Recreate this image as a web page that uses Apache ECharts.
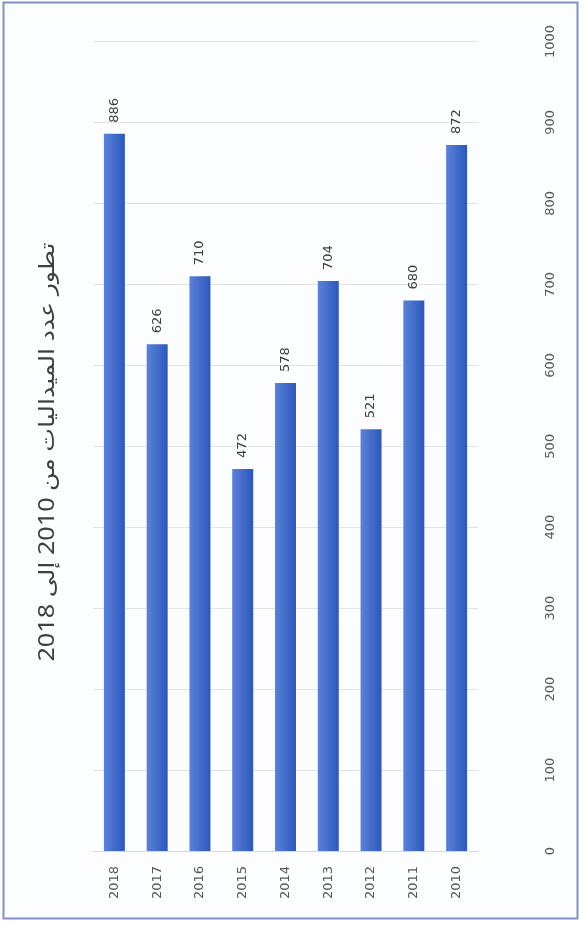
<!DOCTYPE html>
<html><head><meta charset="utf-8">
<script src="https://cdn.jsdelivr.net/npm/echarts@6/dist/echarts.min.js"></script>
<style>html,body{margin:0;padding:0;background:#fff}#c{width:582px;height:925px}</style>
</head><body><div id="c"></div>
<script>
var categories = ['2018','2017','2016','2015','2014','2013','2012','2011','2010'];
var medals = [886, 626, 710, 472, 578, 704, 521, 680, 872];
var titleText = 'تطور عدد الميداليات من 2010 إلى 2018';

var chart = echarts.init(document.getElementById('c'));
var font = '"DejaVu Sans", "Liberation Sans", sans-serif';
chart.setOption({
  animation: false,
  backgroundColor: '#ffffff',
  grid: {left: 93, right: 104, top: 41.5, bottom: 74},
  graphic: [
    {type: 'rect', shape: {x: 3.5, y: 2.5, width: 574, height: 916}, style: {fill: '#fcfdfe', stroke: '#7f93c2', lineWidth: 2}, z: -10},
    {type: 'text', x: 48, y: 452, rotation: Math.PI/2, scaleX: 1.2,
     style: {text: titleText, fill: '#404040', font: '21px "Noto Sans", "DejaVu Sans", sans-serif', align: 'center', verticalAlign: 'middle'}}
  ],
  xAxis: {
    type: 'category', data: categories,
    axisLine: {lineStyle: {color: '#d9d9d9'}},
    axisTick: {show: false},
    axisLabel: {rotate: 90, margin: 15, color: '#595959', fontSize: 13, fontFamily: font}
  },
  yAxis: {
    type: 'value', position: 'right', min: 0, max: 1000, interval: 100,
    axisLine: {show: false}, axisTick: {show: false},
    splitLine: {lineStyle: {color: '#e3e3e3'}},
    axisLabel: {rotate: 90, margin: 66, color: '#595959', fontSize: 13, fontFamily: font,
      formatter: function (v) { return String(v); }}
  },
  series: [{
    type: 'bar', data: medals, barWidth: 21,
    itemStyle: {color: new echarts.graphic.LinearGradient(0, 0, 1, 0, [
      {offset: 0, color: '#5b82d8'}, {offset: 1, color: '#2c57bc'}])},
    label: {show: true, position: 'top', rotate: 90, align: 'left', verticalAlign: 'middle', distance: 11,
      color: '#404040', fontSize: 13, fontFamily: font}
  }]
});
</script></body></html>
